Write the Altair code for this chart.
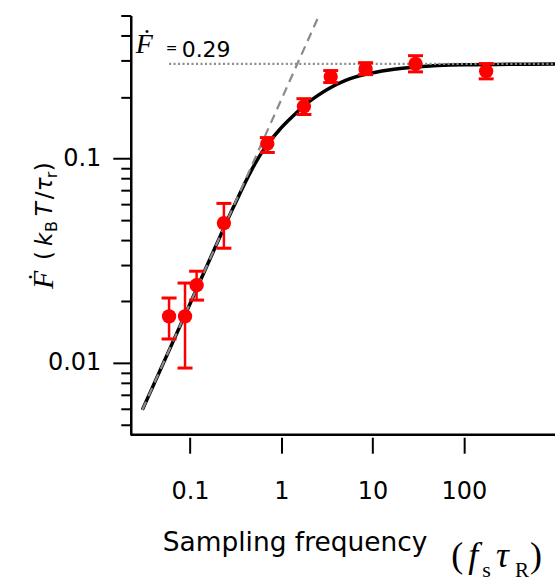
import altair as alt
import pandas as pd

# ---- data ----
pt_x = [0.0589, 0.0881, 0.118, 0.235, 0.703, 1.77, 3.48, 8.40, 29.6, 176.0]
pt_y = [0.0169, 0.0169, 0.0240, 0.0483, 0.118, 0.1795, 0.251, 0.274, 0.290, 0.267]
pt_lo = [0.0131, 0.00945, 0.0203, 0.0364, 0.107, 0.164, 0.235, 0.257, 0.265, 0.245]
pt_hi = [0.0208, 0.0246, 0.0281, 0.0603, 0.1265, 0.196, 0.269, 0.294, 0.318, 0.291]

fit_x = [0.030, 0.1, 0.2, 0.3, 0.48, 0.62, 0.94, 1.44, 1.77, 2.5, 3.33, 5.07, 8.4, 15.1, 30, 100, 1000]
fit_y = [0.0059, 0.0195, 0.039, 0.058, 0.089, 0.108, 0.137, 0.166, 0.181, 0.203, 0.220, 0.241, 0.258, 0.271, 0.280, 0.287, 0.29]

lin_x = [0.030, 2.59]
lin_y = [0.0059, 0.5]

F_inf = 0.29
F_inf_x = [0.0589, 1000]

x_ticks = [0.1, 1, 10, 100]
x_tick_labels = ["0.1", "1", "10", "100"]
y_major = [0.01, 0.1]
y_major_labels = ["0.01", "0.1"]
y_minor = [0.005, 0.006, 0.007, 0.008, 0.009, 0.02, 0.03, 0.04, 0.05, 0.06, 0.07, 0.08, 0.09, 0.2, 0.3, 0.4, 0.5]

x_domain = [0.0224, 1000]
y_domain = [0.00446, 0.5]

W, H = 425, 420
PL, PT = 131, 15


def lab_expr(vals, labs):
    e = "''"
    for v, l in zip(reversed(vals), reversed(labs)):
        e = f"datum.value == {v} ? '{l}' : ({e})"
    return e


major_test = " || ".join(f"datum.value == {v}" for v in y_major)

xs = alt.Scale(type="log", domain=x_domain, nice=False)
ys = alt.Scale(type="log", domain=y_domain, nice=False)

x_axis = alt.Axis(
    values=x_ticks, labelExpr=lab_expr(x_ticks, x_tick_labels), title=None,
    domain=False, offset=2.5, tickSize=16, tickWidth=2, tickColor="black",
    grid=False, labelFont="DejaVu Sans", labelFontSize=24, labelColor="black",
    labelPadding=26, labelOverlap=False, labelFlush=False, labelBound=False,
)
y_axis = alt.Axis(
    values=sorted(y_major + y_minor), labelExpr=lab_expr(y_major, y_major_labels), title=None,
    domain=True, domainWidth=2.5, domainColor="black",
    tickSize={"condition": {"test": major_test, "value": 18}, "value": 10},
    tickWidth=2, tickColor="black", grid=False,
    labelFont="DejaVu Sans", labelFontSize=24, labelColor="black",
    labelPadding=12, labelOverlap=False, labelFlush=False, labelBound=False,
)


def X(f):
    return alt.X(f, type="quantitative", scale=xs, axis=x_axis)


def Y(f):
    return alt.Y(f, type="quantitative", scale=ys, axis=y_axis)


pts = pd.DataFrame({"x": pt_x, "y": pt_y, "lo": pt_lo, "hi": pt_hi})
fit = pd.DataFrame({"x": fit_x, "y": fit_y})
lin = pd.DataFrame({"x": lin_x, "y": lin_y})
flat = pd.DataFrame({"x": F_inf_x, "y": [F_inf] * len(F_inf_x)})

RED = "#ff0000"

fit_line = alt.Chart(fit).mark_line(color="black", strokeWidth=3.5, interpolate="monotone").encode(x=X("x"), y=Y("y"))
flat_line = alt.Chart(flat).mark_line(color="#8c8c8c", strokeWidth=2.2, strokeDash=[2, 2.5]).encode(x=X("x"), y=Y("y"))
lin_line = alt.Chart(lin).mark_line(color="#8a8a8a", strokeWidth=2.2, strokeDash=[9, 6]).encode(x=X("x"), y=Y("y"))
errs = alt.Chart(pts).mark_errorbar(
    color=RED, thickness=2.5, opacity=1,
    rule={"color": RED, "opacity": 1, "strokeWidth": 2.5},
    ticks={"size": 15, "thickness": 3, "color": RED, "opacity": 1},
).encode(x=X("x"), y=Y("lo"), y2="hi")
dots = alt.Chart(pts).mark_circle(color=RED, opacity=1, size=205).encode(x=X("x"), y=Y("y"))

one = pd.DataFrame({"k": [0]})
xline = alt.Chart(one).mark_rule(color="black", strokeWidth=2.5).encode(
    x=alt.value(0), x2=alt.value(W), y=alt.value(H))


def txt(s, X_, Y_, font, size, style="normal", angle=0):
    return alt.Chart(one).mark_text(
        text=s, font=font, fontSize=size, fontStyle=style, align="left",
        baseline="alphabetic", angle=angle, color="black",
    ).encode(x=alt.value(X_ - PL), y=alt.value(Y_ - PT))


SANS = "DejaVu Sans"
SERIF = "Liberation Serif"

texts = [
    # annotation
    txt("Ḟ", 136, 53, SERIF, 28, "italic"),
    txt("=", 166, 53, SANS, 14),
    txt("0.29", 182, 57, SANS, 22),
    # x title
    txt("Sampling frequency", 163, 551, SANS, 26.5),
    txt("(", 452, 567, SERIF, 36),
    txt("f", 469, 567, SERIF, 36, "italic"),
    txt("s", 483, 578, SERIF, 22),
    txt("τ", 497, 567, SERIF, 36, "italic"),
    txt("R", 516, 578, SERIF, 21),
    txt(")", 531, 567, SERIF, 36),
    # y title (rotated)
    txt("Ḟ", 53, 289, SERIF, 30, "italic", 270),
    txt("(", 52, 260, SANS, 23, "normal", 270),
    txt("k", 52, 246, SANS, 23, "italic", 270),
    txt("B", 57, 232, SANS, 16, "normal", 270),
    txt("T", 52, 216, SANS, 23, "italic", 270),
    txt("/", 52, 199, SANS, 23, "normal", 270),
    txt("τ", 52, 191, SANS, 23, "italic", 270),
    txt("r", 57, 178, SANS, 16, "normal", 270),
    txt(")", 52, 171, SANS, 23, "normal", 270),
]

chart = alt.layer(
    fit_line, flat_line, lin_line, errs, dots, xline, *texts
).properties(
    width=W, height=H,
    padding={"left": PL, "top": PT, "right": 0, "bottom": 581 - PT - H},
    autosize=alt.AutoSizeParams(type="none"),
).configure_view(stroke=None)

chart.save("out.html", embed_options={"renderer": "svg", "actions": False})
